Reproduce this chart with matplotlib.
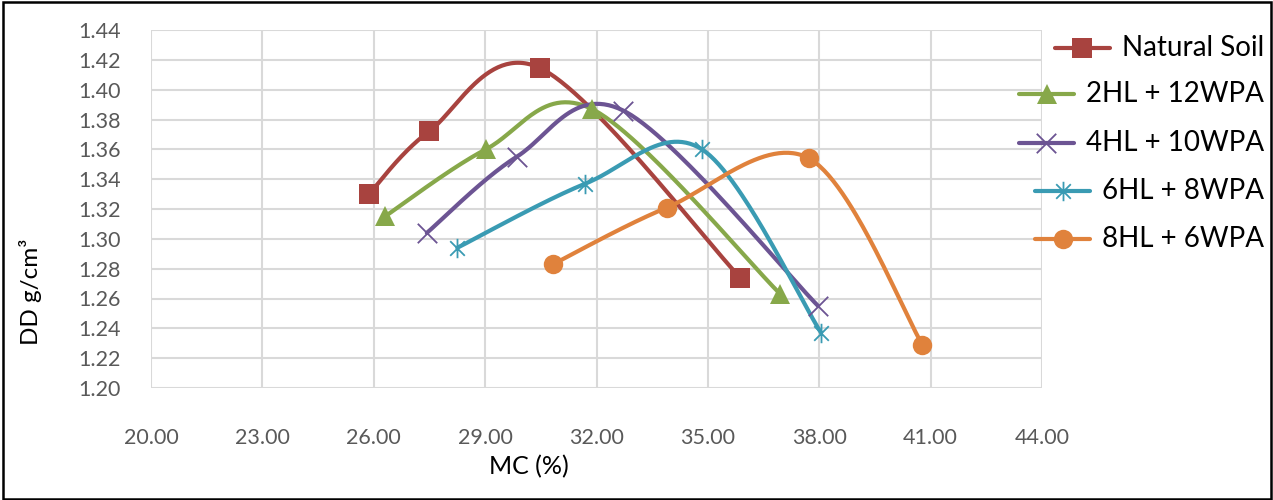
import numpy as np
import matplotlib
matplotlib.use("Agg")
import matplotlib.pyplot as plt
from matplotlib.path import Path
from matplotlib.lines import Line2D
from matplotlib.patches import Rectangle

plt.rcParams['font.family'] = ['Lato', 'DejaVu Sans']

series_names = ["Natural Soil", "2HL + 12WPA", "4HL + 10WPA", "6HL + 8WPA", "8HL + 6WPA"]
mc_natural = [25.87, 27.49, 30.48, 35.87]
dd_natural = [1.330, 1.372, 1.4145, 1.274]
mc_2hl = [26.30, 29.02, 31.88, 36.95]
dd_2hl = [1.315, 1.360, 1.387, 1.263]
mc_4hl = [27.43, 29.85, 32.72, 37.97]
dd_4hl = [1.304, 1.355, 1.386, 1.255]
mc_6hl = [28.25, 31.70, 34.84, 38.05]
dd_6hl = [1.294, 1.337, 1.360, 1.237]
mc_8hl = [30.83, 33.90, 37.72, 40.78]
dd_8hl = [1.283, 1.321, 1.354, 1.229]

x_ticks = [20, 23, 26, 29, 32, 35, 38, 41, 44]
y_ticks = [1.20, 1.22, 1.24, 1.26, 1.28, 1.30, 1.32, 1.34, 1.36, 1.38, 1.40, 1.42, 1.44]

colors = ["#A8433F", "#87A84A", "#6C5493", "#3A9BB3", "#E0823C"]

# custom asterisk marker (vertical + two diagonals)
ast = Path([(0, -1), (0, 1), (-0.75, -0.75), (0.75, 0.75), (-0.75, 0.75), (0.75, -0.75)],
           [Path.MOVETO, Path.LINETO, Path.MOVETO, Path.LINETO, Path.MOVETO, Path.LINETO])
xmk = Path([(-1, -1), (1, 1), (-1, 1), (1, -1)],
           [Path.MOVETO, Path.LINETO, Path.MOVETO, Path.LINETO])
markers = ['s', '^', xmk, ast, 'o']
msizes = [14, 14, 14, 14, 14]
mew = [0, 0, 1.3, 1.3, 0]

W, H = 1273, 500
fig = plt.figure(figsize=(W / 100, H / 100), dpi=100)
ax = fig.add_axes([151 / W, 1 - 388 / H, (1042 - 151) / W, (388 - 30) / H])
ax.set_xlim(20, 44)
ax.set_ylim(1.20, 1.44)
ax.set_xticks(x_ticks)
ax.set_yticks(y_ticks)
ax.set_xticklabels([f"{v:.2f}" for v in x_ticks])
ax.set_yticklabels([f"{v:.2f}" for v in y_ticks])
ax.tick_params(axis='both', length=0, labelsize=15.5, labelcolor='#595959')
ax.tick_params(axis='y', pad=22)
ax.tick_params(axis='x', pad=29)
for s in ax.spines.values():
    s.set_visible(False)
ax.grid(True, color='#D9D9D9', linewidth=1.5)
ax.set_axisbelow(True)

fig.canvas.draw()
T = ax.transData
Tinv = T.inverted()


def smooth(xs, ys, n=60):
    P = T.transform(np.column_stack([xs, ys]))
    m = len(P)
    out = [P[0]]
    for i in range(m - 1):
        p0 = P[i - 1] if i > 0 else P[i]
        p1 = P[i]
        p2 = P[i + 1]
        p3 = P[i + 2] if i + 2 < m else P[i + 1]
        c1 = p1 + (p2 - p0) / 6.0
        c2 = p2 - (p3 - p1) / 6.0
        t = np.linspace(0, 1, n)[1:, None]
        B = ((1 - t) ** 3) * p1 + 3 * ((1 - t) ** 2) * t * c1 + 3 * (1 - t) * t ** 2 * c2 + t ** 3 * p2
        out.extend(B)
    D = Tinv.transform(np.array(out))
    return D[:, 0], D[:, 1]


data = [(mc_natural, dd_natural), (mc_2hl, dd_2hl), (mc_4hl, dd_4hl), (mc_6hl, dd_6hl), (mc_8hl, dd_8hl)]
for i, (xs, ys) in enumerate(data):
    sx, sy = smooth(xs, ys)
    ax.plot(sx, sy, color=colors[i], lw=3.0, solid_capstyle='round', zorder=3)
    ax.plot(xs, ys, linestyle='none', marker=markers[i], markersize=msizes[i],
            color=colors[i], markeredgecolor=colors[i], markeredgewidth=mew[i], zorder=4,
            clip_on=False)

fig.text(529 / W, 1 - 467 / H, "MC (%)", fontsize=18, ha='center', va='center', color='black')
fig.text(30 / W, 1 - 292 / H, "DD g/cm³", fontsize=17.5, ha='center', va='center',
         rotation=90, color='black')

# legend (right-aligned entries)
leg_y = [48, 94, 143, 191, 239]
text_right = 1264
renderer = fig.canvas.get_renderer()
for i, name in enumerate(series_names):
    yy = 1 - leg_y[i] / H
    t = fig.text(text_right / W, yy, name, fontsize=20, ha='right', va='center', color='black')
    bb = t.get_window_extent(renderer)
    xr = bb.x0 - 12
    xl = xr - 55
    fig.add_artist(Line2D([xl / W, xr / W], [yy, yy], transform=fig.transFigure,
                          color=colors[i], lw=3.0, solid_capstyle='round'))
    fig.add_artist(Line2D([(xl + xr) / 2 / W], [yy], transform=fig.transFigure,
                          linestyle='none', marker=markers[i], markersize=msizes[i],
                          color=colors[i], markeredgecolor=colors[i], markeredgewidth=mew[i]))

fig.add_artist(Rectangle((3 / W, 1 / H), (W - 5) / W, (H - 3) / H, transform=fig.transFigure,
                         fill=False, edgecolor='black', linewidth=1.8))

fig.savefig("out.png", dpi=100)
